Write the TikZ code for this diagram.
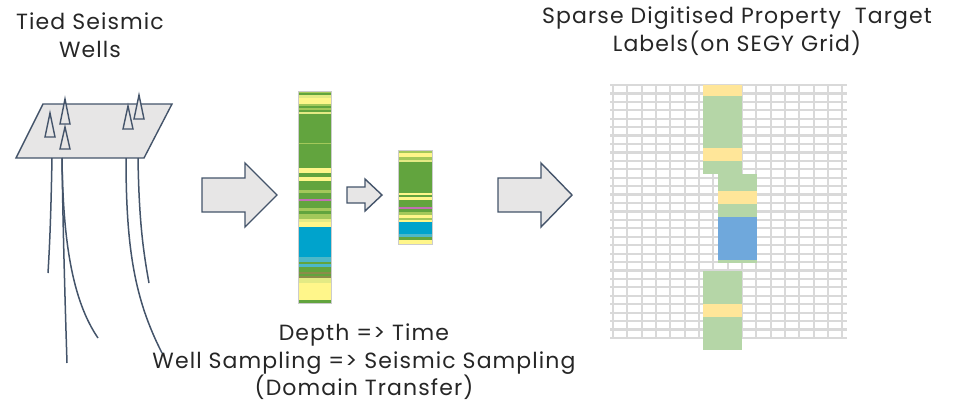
\documentclass[tikz,border=0pt]{standalone}
\usepackage{fontspec}
\setmainfont{Poppins}[LetterSpace=5]
\usetikzlibrary{positioning}

\definecolor{slate}{HTML}{44546A}
\definecolor{panel}{HTML}{E7E6E6}
\definecolor{gridgray}{HTML}{D9D9D9}
\definecolor{labyellow}{HTML}{FFE699}
\definecolor{labgreen}{HTML}{B5D6A7}
\definecolor{labblue}{HTML}{6FA8DC}
\definecolor{loggreen}{HTML}{62A43E}
\definecolor{loglight}{HTML}{A3C85A}
\definecolor{logpale}{HTML}{E3EA84}
\definecolor{logyellow}{HTML}{FFF68A}
\definecolor{logblue}{HTML}{00A3CC}
\definecolor{logcyan}{HTML}{4DB8C8}
\definecolor{logpink}{HTML}{C270B4}
\definecolor{logolive}{HTML}{8C8C4A}

\begin{document}
\begin{tikzpicture}[x=1pt, y=-1pt,
  outline/.style={draw=slate, line width=1.4pt, line join=miter},
  wellpath/.style={draw=slate, line width=1.5pt},
  blockarrow/.style={outline, fill=panel},
  gridline/.style={draw=gridgray, line width=2.2pt},
  logframe/.style={draw=black!20, line width=0.8pt, inner sep=0pt},
  caption/.style={align=center, text=black!85, font=\fontsize{22}{27.5}\selectfont}]

\useasboundingbox (0,0) rectangle (953,405);

% Titles
\node[caption] (wellstitle) at (90,35) {Tied Seismic\\Wells};
\node[caption] (targettitle) at (737,31) {Sparse Digitised Property~~Target\\Labels(on SEGY Grid)};
\node[caption] (transfercaption) at (364,362) {Depth => Time\\Well Sampling => Seismic Sampling\\(Domain Transfer)};

% Surface panel and well heads
\fill[panel] (43,104) -- (172,104) -- (144,158) -- (16,158) -- cycle;
\draw[outline] (43,104) -- (172,104) -- (144,158) -- (16,158) -- cycle;
\foreach \x/\ya/\yb in {50/113/137, 65/99/124, 65/127/149, 128/106/129, 139/95/119}
  \draw[outline, fill=panel] (\x-5,\yb) -- (\x,\ya) -- (\x+5,\yb) -- cycle;

% Well trajectories
\draw[wellpath] (52,158) .. controls (51,210) and (50,240) .. (48,273);
\draw[wellpath] (62,158) .. controls (63,230) and (65,300) .. (67,363);
\draw[wellpath] (62,158) .. controls (63,240) and (72,300) .. (98,338);
\draw[wellpath] (126,158) .. controls (126,250) and (135,300) .. (162,353);
\draw[wellpath] (138,158) .. controls (139,220) and (143,250) .. (149,283);

% Block arrows
\draw[blockarrow] (202,178) -- (245,178) -- (245,163) -- (277,195) -- (245,227) -- (245,212) -- (202,212) -- cycle;
\draw[blockarrow] (347,187) -- (365,187) -- (365,179) -- (382,195) -- (365,211) -- (365,203) -- (347,203) -- cycle;
\draw[blockarrow] (498,178) -- (541,178) -- (541,163) -- (572,195) -- (541,227) -- (541,212) -- (498,212) -- cycle;

% Well log in depth
\foreach \ya/\yb/\c in {91/93/loglight, 93/95/loggreen, 95/98/logpale, 98/103.5/logyellow,
    103.5/106/loglight, 106/108/loggreen, 108/110/loglight, 110/112/loggreen, 112/113.5/logpale,
    113.5/168/loggreen, 143/143.8/loglight, 168/173/logyellow, 173/177/loggreen, 177/181/logyellow,
    181/190/loggreen, 190/193/loglight, 193/199/loggreen, 199/201/logpink, 201/208/loggreen,
    208/211/loglight, 211/214/loggreen, 214/219/loglight, 219/222/logpale, 222/227/logyellow,
    227/257/logblue, 257/262/logcyan, 262/264/loggreen, 264/267/logcyan, 267/272/loggreen,
    272/274/logolive, 274/276/loggreen, 276/278/logolive, 278/283/logpale, 283/300/logyellow,
    300/303/loggreen}
  \fill[\c] (298,\ya) rectangle (331,\yb);
\node[logframe, minimum width=33pt, minimum height=212pt] (depthlog) at (314.5,197) {};

% Well log in time
\foreach \ya/\yb/\c in {150/153/loglight, 153/157/logyellow, 157/160/loglight, 160/162/logpale,
    162/193/loggreen, 193/195/logyellow, 195/197/loggreen, 197/200/logyellow, 200/207/loggreen,
    207/209/logpink, 209/212/loggreen, 212/215/loglight, 215/218/logyellow, 218/220/loglight,
    220/222/logyellow, 222/234/logblue, 234/237/logcyan, 237/240/loggreen, 240/244/logyellow}
  \fill[\c] (398,\ya) rectangle (432,\yb);
\node[logframe, minimum width=34pt, minimum height=94pt] (timelog) at (415,197) {};

% SEGY grid
\foreach \i in {0,...,16}
  \draw[gridline] ({613+\i*14.33},85) -- ({613+\i*14.33},339);
\foreach \j in {0,...,30}
  \draw[gridline] (610,{85+\j*8.43}) -- (847,{85+\j*8.43});

% Sparse labels
\foreach \xa/\xb/\ya/\yb/\c in {703/742/85/96/labyellow, 703/742/96/148/labgreen,
    703/742/148/161/labyellow, 703/742/161/174/labgreen,
    718/757/174/191/labgreen, 718/757/191/204/labyellow, 718/757/204/217/labgreen,
    718/757/217/260/labblue, 718/757/260/263/labgreen,
    703/742/271/304/labgreen, 703/742/304/317/labyellow, 703/742/317/350/labgreen}
  \fill[\c] (\xa,\ya) rectangle (\xb,\yb);

\end{tikzpicture}
\end{document}
